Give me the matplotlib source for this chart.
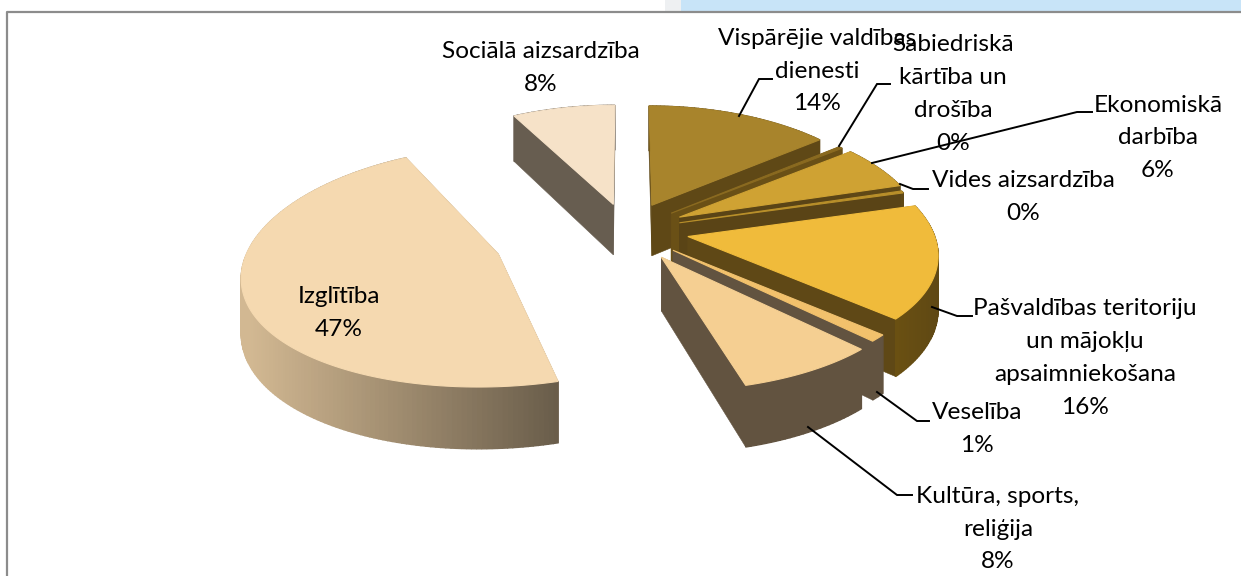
import numpy as np
import matplotlib
matplotlib.use("Agg")
import matplotlib.pyplot as plt
from matplotlib.colors import to_rgb

categories = ["Vispārējie valdības\ndienesti", "Sabiedriskā\nkārtība un\ndrošība", "Ekonomiskā\ndarbība",
              "Vides aizsardzība", "Pašvaldības teritoriju\nun mājokļu\napsaimniekošana", "Veselība",
              "Kultūra, sports,\nreliģija", "Izglītība", "Sociālā aizsardzība"]
values = [14.0, 0.3, 6.0, 0.3, 16.0, 1.0, 8.0, 46.6, 7.8]

explode = [60, 58, 60, 55, 62, 62, 66, 135, 58]
top_col = ["#a8842c", "#8a6a20", "#cfa233", "#b88f2a", "#f0bb3b", "#f2c16c", "#f5cf92", "#f5d9b0", "#f6e2c8"]
wall_l = ["#5f4816", "#6a5016", "#5f4816", "#5f4816", "#6a5012", "#625340", "#625340", "#d2b892", "#675d50"]
wall_r = ["#5f4816", "#6a5016", "#5f4816", "#5f4816", "#5f4814", "#625340", "#625340", "#665a48", "#675d50"]
face_col = ["#5f4816", "#6a5016", "#5a4416", "#5a4416", "#5f4816", "#625340", "#625340", "#625340", "#675d50"]
label_xy = [(817, 71), (953, 94), (1158, 138), (1023, 197), (1085, 358), (977, 429), (998, 529), (339, 313), (541, 68)]
leaders = [[(739, 116), (759, 79), (772, 79)], [(839, 146), (877, 84), (890, 84)],
           [(872, 163), (1077, 112), (1092, 112)], [(900, 184), (913, 189), (928, 189)],
           [(932, 307), (957, 316), (972, 316)], [(877, 392), (917, 421), (929, 421)],
           [(808, 427), (897, 495), (912, 495)]]

CX, CY, D, DY, K, R, H = 627, 230, 1868, 2400, 0.466, 245, 52

def proj(X, Y):
    return CX + X * D / (D + Y), CY - K * Y * DY / (DY + Y)

def hgt(Y):
    return H * D / (D + Y)

fig = plt.figure(figsize=(12.41, 5.76), dpi=100)
ax = fig.add_axes([0, 0, 1, 1])
ax.set_xlim(0, 1241)
ax.set_ylim(576, 0)
ax.axis("off")

# page behind the chart frame
ax.fill_between([681, 1241], 0, 12, color="#c8e4f8", lw=0, zorder=0)
ax.fill_between([665, 681], 0, 12, color="#eef0f2", lw=0, zorder=0)
ax.plot([7, 7, 1241], [576, 12, 12], color="#8c8c8c", lw=1.6, zorder=1)

total = sum(values)
fr = np.array(values) / total
starts = np.concatenate([[0], np.cumsum(fr)[:-1]]) * 2 * np.pi
ends = starts + fr * 2 * np.pi
order = [8, 0, 1, 2, 3, 4, 5, 6, 7]

for i in order:
    mid = (starts[i] + ends[i]) / 2
    ox, oy = explode[i] * np.sin(mid), explode[i] * np.cos(mid)
    th = np.linspace(starts[i], ends[i], max(3, int(np.degrees(ends[i] - starts[i]))))
    X = ox + R * np.sin(th)
    Y = oy + R * np.cos(th)
    ax_, ay_ = proj(ox, oy)
    px, py = proj(X, Y)
    h = hgt(Y)
    ah = hgt(oy)
    z = 10 + order.index(i) * 3
    # radial cut faces
    for k in (0, -1):
        ax.fill([ax_, px[k], px[k], ax_], [ay_, py[k], py[k] + h[k], ay_ + ah],
                color=face_col[i], lw=0.4, zorder=z)
    # outer wall, shaded left to right
    cl, cr = np.array(to_rgb(wall_l[i])), np.array(to_rgb(wall_r[i]))
    x0, x1 = (250, 566) if i == 7 else (px.min(), px.max() + 1e-6)
    for j in range(len(th) - 1):
        t = np.clip(((px[j] + px[j + 1]) / 2 - x0) / (x1 - x0), 0, 1)
        ax.fill([px[j], px[j + 1], px[j + 1], px[j]],
                [py[j], py[j + 1], py[j + 1] + h[j + 1], py[j] + h[j]],
                color=cl + (cr - cl) * t, lw=1.0, zorder=z + 1)
    # top face
    ax.fill(np.r_[ax_, px], np.r_[ay_, py], color=top_col[i], lw=0.8, zorder=z + 2)

for pts in leaders:
    xs, ys = zip(*pts)
    ax.plot(xs, ys, color="black", lw=1.4, zorder=60, solid_joinstyle="miter")

for name, v, (x, y) in zip(categories, values, label_xy):
    ax.text(x, y, f"{name}\n{round(v)}%", ha="center", va="center", family="Lato",
            fontsize=17.6, linespacing=1.7, color="black", zorder=70)

fig.savefig("out.png", dpi=100)
